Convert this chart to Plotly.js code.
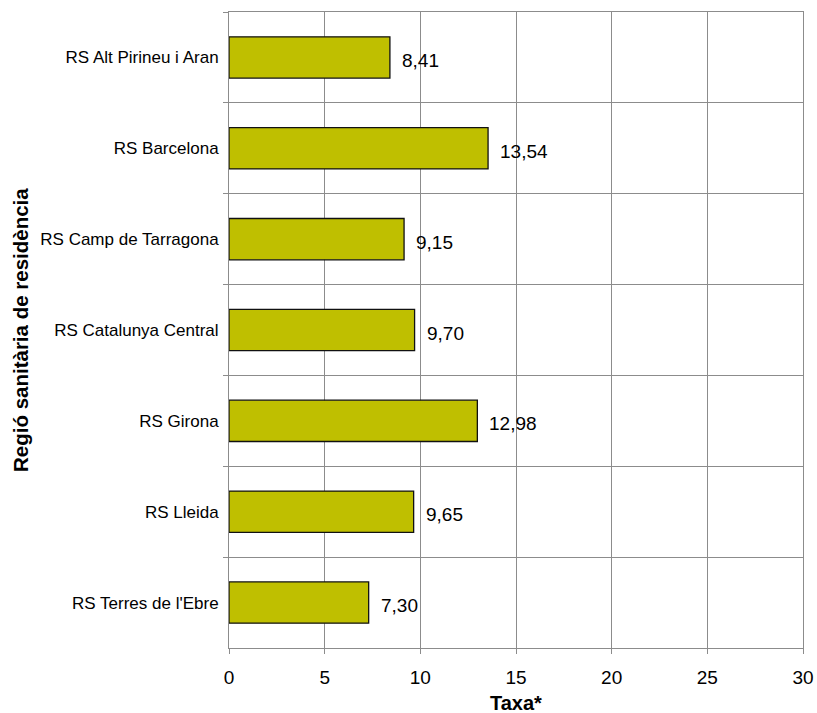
<!DOCTYPE html>
<html>
<head>
<meta charset="utf-8">
<script src="https://cdn.plot.ly/plotly-3.0.1.min.js"></script>
<style>html,body{margin:0;padding:0;background:#fff;}#chart{width:817px;height:713px;}</style>
</head>
<body>
<div id="chart"></div>
<script>
const categories = ["RS Alt Pirineu i Aran", "RS Barcelona", "RS Camp de Tarragona", "RS Catalunya Central", "RS Girona", "RS Lleida", "RS Terres de l'Ebre"];
const values = [8.41, 13.54, 9.15, 9.70, 12.98, 9.65, 7.30];
const xTicks = [0, 5, 10, 15, 20, 25, 30];
const xTitle = 'Taxa*';
const yTitle = 'Regió sanitària de residència';

const fmt = v => v.toFixed(2).replace('.', ',');
const FONT = 'Liberation Sans, Arial, sans-serif';

const trace = {
  type: 'bar',
  orientation: 'h',
  x: values,
  y: categories,
  width: 0.4545,
  marker: {color: '#BFBF00', line: {color: '#111', width: 1.3}},
  hoverinfo: 'none'
};

const annotations = values.map((v, i) => ({
  x: v, y: categories[i], xref: 'x', yref: 'y',
  text: fmt(v), showarrow: false, xanchor: 'left', yanchor: 'middle',
  xshift: 10, yshift: -3,
  font: {family: FONT, size: 19, color: '#000'}
}));

annotations.push({
  text: '<b>' + yTitle + '</b>', showarrow: false, textangle: -90,
  xref: 'paper', yref: 'paper', x: (20 - 229) / 574, y: 0.5,
  xanchor: 'center', yanchor: 'middle',
  font: {family: FONT, size: 20.5, color: '#000'}
});
annotations.push({
  text: '<b>' + xTitle + '</b>', showarrow: false,
  xref: 'paper', yref: 'paper', x: 0.5, y: (648 - 703) / 636,
  xanchor: 'center', yanchor: 'middle',
  font: {family: FONT, size: 20, color: '#000'}
});

const layout = {
  width: 817, height: 713,
  margin: {l: 229, r: 14, t: 12, b: 65},
  paper_bgcolor: '#fff', plot_bgcolor: '#fff',
  separators: ',.',
  showlegend: false,
  font: {family: FONT, color: '#000'},
  xaxis: {
    range: [0, 30], tickvals: xTicks, ticktext: xTicks.map(String),
    showgrid: true, gridcolor: '#8c8c8c', gridwidth: 1,
    showline: true, linecolor: '#8c8c8c', linewidth: 1, mirror: true,
    ticks: 'outside', ticklen: 5, tickcolor: '#8c8c8c',
    tickfont: {size: 19, color: '#000'},
    ticklabelstandoff: 7,
    zeroline: false, fixedrange: true
  },
  yaxis: {
    type: 'category', categoryorder: 'array', categoryarray: categories,
    autorange: 'reversed',
    tickson: 'boundaries',
    showgrid: true, gridcolor: '#8c8c8c', gridwidth: 1,
    showline: true, linecolor: '#8c8c8c', linewidth: 1, mirror: true,
    ticks: 'outside', ticklen: 5, tickcolor: '#8c8c8c',
    tickfont: {size: 17, color: '#000'},
    ticklabelstandoff: 6,
    zeroline: false, fixedrange: true
  },
  annotations: annotations
};

Plotly.newPlot('chart', [trace], layout, {displayModeBar: false, staticPlot: true});
</script>
</body>
</html>
